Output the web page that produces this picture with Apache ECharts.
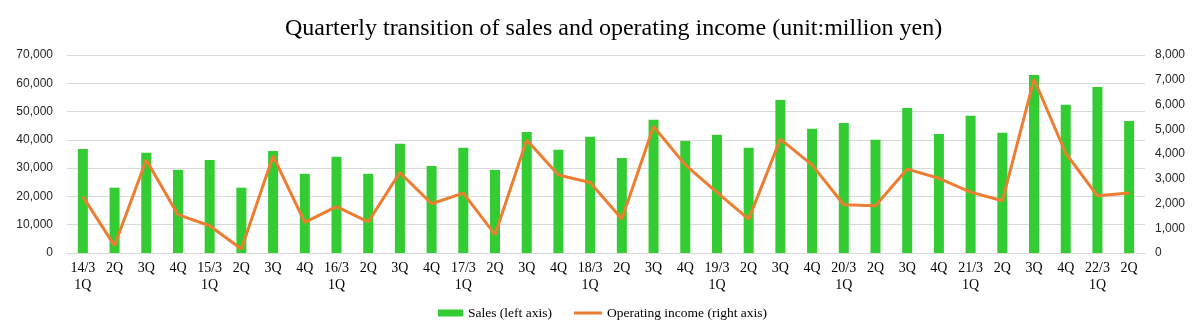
<!DOCTYPE html>
<html>
<head>
<meta charset="utf-8">
<script src="https://cdn.jsdelivr.net/npm/echarts@6/dist/echarts.min.js"></script>
<style>
  html, body { margin: 0; padding: 0; background: #fff; }
  #chart { width: 1198px; height: 327px; }
</style>
</head>
<body>
<div id="chart"></div>
<script>
// quarters (fiscal year label on the 1Q)
var quarters = [
  "14/3\n1Q", "2Q", "3Q", "4Q",
  "15/3\n1Q", "2Q", "3Q", "4Q",
  "16/3\n1Q", "2Q", "3Q", "4Q",
  "17/3\n1Q", "2Q", "3Q", "4Q",
  "18/3\n1Q", "2Q", "3Q", "4Q",
  "19/3\n1Q", "2Q", "3Q", "4Q",
  "20/3\n1Q", "2Q", "3Q", "4Q",
  "21/3\n1Q", "2Q", "3Q", "4Q",
  "22/3\n1Q", "2Q"
];
// sales, million yen (left axis)
var sales = [
  36800, 23100, 35400, 29400,
  32900, 23100, 36100, 28000,
  34000, 28000, 38600, 30800,
  37200, 29400, 42800, 36500,
  41100, 33600, 47100, 39600,
  41800, 37200, 54100, 43900,
  46000, 40000, 51300, 42100,
  48500, 42500, 62900, 52400,
  58700, 46700
];
// operating income, million yen (right axis)
var opIncome = [
  2280, 300, 3760, 1550,
  1100, 160, 3920, 1240,
  1870, 1260, 3250, 1990,
  2420, 740, 4570, 3150,
  2850, 1370, 5110, 3560,
  2450, 1370, 4600, 3560,
  1950, 1910, 3390, 3020,
  2460, 2110, 7020, 4030,
  2310, 2420
];

var myChart = echarts.init(document.getElementById("chart"));

var gridColor = "#d9d9d9";
var legendText = { fontFamily: "Liberation Serif", fontSize: 13.5, color: "#000" };
var numFmt = function (v) { return v.toLocaleString("en-US"); };

var option = {
  animation: false,
  title: {
    text: "Quarterly transition of sales and operating income (unit:million yen)",
    left: 280,
    top: 12,
    textStyle: {
      fontFamily: "Liberation Serif",
      fontSize: 24,
      fontWeight: "normal",
      color: "#000"
    }
  },
  // two legends so the line key can be a flat bar without a symbol
  legend: [
    {
      left: 438,
      top: 306,
      padding: 0,
      itemWidth: 25,
      itemHeight: 7,
      icon: "rect",
      textStyle: legendText,
      data: ["Sales (left axis)"]
    },
    {
      left: 574,
      top: 306,
      padding: 0,
      itemWidth: 28,
      itemHeight: 3,
      icon: "rect",
      textStyle: legendText,
      data: ["Operating income (right axis)"]
    }
  ],
  grid: {
    left: 67,
    right: 53,
    top: 55,
    bottom: 74
  },
  xAxis: {
    type: "category",
    data: quarters,
    axisTick: { show: false },
    axisLine: { lineStyle: { color: gridColor } },
    axisLabel: {
      interval: 0,
      margin: 7,
      fontFamily: "Liberation Serif",
      fontSize: 14,
      lineHeight: 17,
      color: "#000",
      verticalAlign: "top"
    }
  },
  yAxis: [
    {
      type: "value",
      min: 0,
      max: 70000,
      interval: 10000,
      axisLine: { show: false },
      axisTick: { show: false },
      splitLine: { lineStyle: { color: gridColor } },
      axisLabel: {
        margin: 14,
        fontFamily: "Liberation Sans",
        fontSize: 12,
        color: "#262626",
        formatter: numFmt
      }
    },
    {
      type: "value",
      min: 0,
      max: 8000,
      interval: 1000,
      axisLine: { show: false },
      axisTick: { show: false },
      splitLine: { show: false },
      axisLabel: {
        margin: 10,
        fontFamily: "Liberation Sans",
        fontSize: 12,
        color: "#262626",
        formatter: numFmt
      }
    }
  ],
  series: [
    {
      name: "Sales (left axis)",
      type: "bar",
      yAxisIndex: 0,
      barWidth: 10,
      itemStyle: { color: "#33cc33" },
      data: sales
    },
    {
      name: "Operating income (right axis)",
      type: "line",
      yAxisIndex: 1,
      symbol: "none",
      lineStyle: { color: "#ed7d31", width: 3 },
      itemStyle: { color: "#ed7d31" },
      data: opIncome
    }
  ]
};

myChart.setOption(option);
</script>
</body>
</html>
